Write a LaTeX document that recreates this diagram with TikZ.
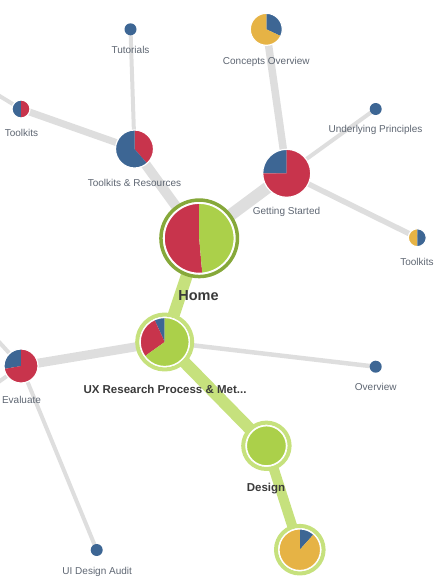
\documentclass[tikz,border=0pt]{standalone}
\usepackage{fontspec}
\setmainfont{Liberation Sans}
\usepackage{xcolor}
\usepackage{tikz}
\usetikzlibrary{backgrounds}
\definecolor{pieRed}{HTML}{C8344C}
\definecolor{pieBlue}{HTML}{3D6694}
\definecolor{pieGreen}{HTML}{ABD04A}
\definecolor{pieGold}{HTML}{E6B345}
\definecolor{linkGray}{HTML}{DEDEDE}
\definecolor{trailGreen}{HTML}{C6E17D}
\definecolor{homeRing}{HTML}{86A83A}
\definecolor{labelGray}{HTML}{5E6672}
\definecolor{titleGray}{HTML}{3A3A3A}
\newcommand{\pieSlice}[5]{%
  \fill[#5] (#1.center) -- ++(#3:#2) arc[start angle=#3,end angle=#4,radius=#2] -- cycle;}

\begin{document}
\begin{tikzpicture}[x=1pt,y=1pt,line join=round,
  hub/.style={circle,inner sep=0pt,minimum size=#1},
  dot/.style={circle,inner sep=0pt,minimum size=12pt,fill=pieBlue},
  ring/.style={circle,inner sep=0pt,minimum size=#1,fill=white,draw=trailGreen,line width=4pt},
  lbl/.style={font=\fontsize{10}{12}\selectfont,text=labelGray,inner sep=0pt,anchor=base},
  title/.style={font=\bfseries\fontsize{11.5}{14}\selectfont,text=titleGray,inner sep=0pt,anchor=base},
  grayline/.style={linkGray,line width=#1},
  greenline/.style={trailGreen,line width=#1}]
  \useasboundingbox (0,0) rectangle (439,-582);
  \node[dot] (tut) at (130.5,-29.3) {};
  \node[dot] (up) at (375.7,-109) {};
  \node[dot] (ov) at (375.7,-366.7) {};
  \node[dot] (uia) at (96.7,-550) {};
  \node[hub=32pt] (conc) at (266.3,-29.3) {};
  \node[hub=48pt] (gs) at (286.7,-173.3) {};
  \node[hub=18pt] (tkr) at (417.3,-237.7) {};
  \node[hub=18pt] (tkl) at (21,-109) {};
  \node[hub=38pt] (tres) at (134.5,-149) {};
  \node[hub=34pt] (eval) at (21,-366) {};
  \node[ring=76.5pt,draw=homeRing,line width=3.5pt] (home) at (199.2,-238.3) {};
  \node[ring=55pt] (ux) at (164.7,-342) {};
  \node[ring=46.4pt] (design) at (266.4,-445.8) {};
  \node[ring=47.6pt] (dsub) at (299.8,-549.7) {};
  \coordinate (offA) at (-40,-72);
  \coordinate (offB) at (-21,-320);
  \coordinate (offC) at (-21,-396);
  \foreach \nd/\rad/\sa/\ea/\cl in {
      conc/16/-25/90/pieBlue, conc/16/90/335/pieGold,
      gs/24/90/180/pieBlue, gs/24/180/450/pieRed,
      tkr/9/90/270/pieGold, tkr/9/-90/90/pieBlue,
      tkl/9/90/270/pieBlue, tkl/9/-90/90/pieRed,
      tres/19/-49/90/pieRed, tres/19/90/311/pieBlue,
      eval/17/90/190/pieBlue, eval/17/190/450/pieRed,
      home/35/90/275/pieRed, home/35/-85/90/pieGreen,
      ux/24.5/90/114.6/pieBlue, ux/24.5/114.6/215.6/pieRed, ux/24.5/215.6/450/pieGreen,
      design/20/0/360/pieGreen,
      dsub/20.8/48/90/pieBlue, dsub/20.8/90/408/pieGold}
    \pieSlice{\nd}{\rad}{\sa}{\ea}{\cl};
  \foreach \nd/\rad in {conc/16,gs/24,tkr/9,tkl/9,tres/19,eval/17,home/35,ux/24.5,design/20,dsub/20.8}
    \draw[white,line width=1.2pt] (\nd.center) circle (\rad);
  \begin{scope}[on background layer]
    \draw[grayline=4pt] (tut.center) -- (tres.center);
    \draw[grayline=7pt] (tkl.center) -- (tres.center);
    \draw[grayline=4pt] (offA) -- (tkl.center);
    \draw[grayline=10pt] (tres.center) -- (home.center);
    \draw[grayline=7.5pt] (conc.center) -- (gs.center);
    \draw[grayline=4pt] (up.center) -- (gs.center);
    \draw[grayline=12pt] (gs.center) -- (home.center);
    \draw[grayline=5.5pt] (gs.center) -- (tkr.center);
    \draw[grayline=9pt] (ux.center) -- (eval.center);
    \draw[grayline=4.5pt] (ux.center) -- (ov.center);
    \draw[grayline=4pt] (eval.center) -- (uia.center);
    \draw[grayline=4pt] (offB) -- (eval.center);
    \draw[grayline=4pt] (offC) -- (eval.center);
    \draw[greenline=12pt] (home.center) -- (ux.center);
    \draw[greenline=12pt] (ux.center) -- (design.center);
    \draw[greenline=10pt] (design.center) -- (dsub.center);
  \end{scope}
  \node[lbl] (tut-l) at (130.5,-53.6) {Tutorials};
  \node[lbl] (conc-l) at (266.3,-64.6) {Concepts Overview};
  \node[lbl] (up-l) at (375.5,-132.6) {Underlying Principles};
  \node[lbl] (gs-l) at (286.5,-214.6) {Getting Started};
  \node[lbl] (tkr-l) at (417,-265.1) {Toolkits};
  \node[lbl] (tkl-l) at (21.5,-136.1) {Toolkits};
  \node[lbl] (tres-l) at (134.5,-186.1) {Toolkits \& Resources};
  \node[lbl] (eval-l) at (21.5,-403.1) {Evaluate};
  \node[lbl] (ov-l) at (375.8,-390.6) {Overview};
  \node[lbl] (uia-l) at (97.2,-574.4) {UI Design Audit};
  \node[title,font=\bfseries\fontsize{14.5}{17}\selectfont] (home-l) at (198.5,-300.9) {Home};
  \node[title] (ux-l) at (165,-393.6) {UX Research Process \& Met...};
  \node[title] (design-l) at (266,-491.6) {Design};
\end{tikzpicture}
\end{document}
